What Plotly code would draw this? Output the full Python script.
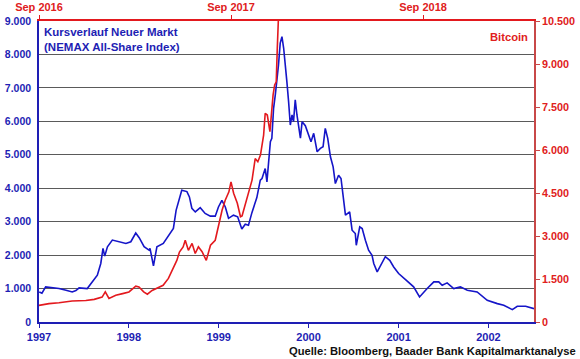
import plotly.graph_objects as go

# NEMAX All-Share Index (bottom date axis, left value axis)
nemax_dates = [
    "1997-01-02", "1997-01-13", "1997-01-28", "1997-02-23", "1997-03-23", "1997-04-21",
    "1997-05-16", "1997-05-31", "1997-06-13", "1997-07-16", "1997-08-06", "1997-08-26",
    "1997-09-09", "1997-09-18", "1997-09-25", "1997-10-06", "1997-10-26", "1997-11-22",
    "1997-12-20", "1998-01-09", "1998-01-29", "1998-02-12", "1998-03-04", "1998-03-24",
    "1998-03-28", "1998-04-11", "1998-04-25", "1998-05-21", "1998-06-18", "1998-07-01",
    "1998-07-12", "1998-07-28", "1998-08-04", "1998-08-25", "1998-09-04", "1998-09-14",
    "1998-09-28", "1998-10-18", "1998-11-07", "1998-11-28", "1998-12-18", "1998-12-31",
    "1999-01-14", "1999-01-28", "1999-02-10", "1999-03-02", "1999-03-19", "1999-04-05",
    "1999-04-19", "1999-05-02", "1999-05-16", "1999-06-05", "1999-06-19", "1999-06-26",
    "1999-07-09", "1999-07-16", "1999-07-30", "1999-08-05", "1999-08-12", "1999-08-19",
    "1999-08-26", "1999-09-01", "1999-09-08", "1999-09-15", "1999-09-22", "1999-09-29",
    "1999-10-05", "1999-10-12", "1999-10-19", "1999-10-26", "1999-11-01", "1999-11-08",
    "1999-11-15", "1999-11-29", "1999-12-06", "1999-12-19", "2000-01-01", "2000-01-11",
    "2000-01-22", "2000-02-05", "2000-02-18", "2000-02-29", "2000-03-09", "2000-03-19",
    "2000-03-30", "2000-04-10", "2000-04-19", "2000-05-02", "2000-05-12", "2000-05-20",
    "2000-05-30", "2000-06-16", "2000-06-26", "2000-07-09", "2000-07-13", "2000-07-27",
    "2000-08-06", "2000-08-19", "2000-09-01", "2000-09-15", "2000-09-22", "2000-10-06",
    "2000-10-26", "2000-11-08", "2000-11-26", "2000-12-12", "2001-01-01", "2001-01-22",
    "2001-02-05", "2001-03-03", "2001-03-27", "2001-04-27", "2001-05-24", "2001-06-13",
    "2001-06-27", "2001-07-17", "2001-08-13", "2001-09-09", "2001-10-07", "2001-11-16",
    "2001-12-27", "2002-02-06", "2002-03-04", "2002-04-08", "2002-04-28", "2002-06-01",
    "2002-07-05",
]
nemax_values = [
    900, 860, 1050, 1030, 1000, 950,
    900, 940, 1020, 1000, 1200, 1400,
    1750, 2200, 1970, 2250, 2450, 2400,
    2350, 2400, 2660, 2520, 2250, 2150,
    2200, 1680, 2250, 2350, 2650, 2800,
    3340, 3790, 3940, 3900, 3740, 3400,
    3290, 3420, 3245, 3165, 3165, 3440,
    3640, 3440, 3100, 3195, 3145, 2780,
    2925, 2895, 3270, 3720, 4240, 4290,
    4590, 4190, 5390, 5490, 6390, 6790,
    7240, 7690, 8340, 8530, 8185, 7485,
    7185, 6590, 5890, 6190, 5990, 6640,
    6190, 5500, 5990, 5870, 5590, 5390,
    5640, 5090, 5190, 5240, 5790, 5490,
    4940, 4640, 4140, 4390, 4290, 3795,
    3195, 3295, 2745, 2645, 2295, 2845,
    2795, 2445, 2145, 1995, 1750, 1500,
    1795, 1955, 1845, 1645, 1450, 1300,
    1220, 1050, 750, 1000, 1200, 1200,
    1100, 1170, 1000, 1050, 950, 900,
    650, 550, 500, 370, 470, 470,
    400,
]

# Bitcoin (top date axis, right value axis)
btc_dates = [
    "2016-09-01", "2016-09-20", "2016-10-09", "2016-11-03", "2016-11-29", "2016-12-15",
    "2016-12-30", "2017-01-05", "2017-01-12", "2017-01-25", "2017-02-07", "2017-02-19",
    "2017-03-04", "2017-03-10", "2017-03-19", "2017-03-26", "2017-04-04", "2017-04-17",
    "2017-04-25", "2017-05-05", "2017-05-14", "2017-05-21", "2017-05-26", "2017-06-02",
    "2017-06-06", "2017-06-12", "2017-06-19", "2017-06-25", "2017-07-01", "2017-07-08",
    "2017-07-16", "2017-07-24", "2017-08-02", "2017-08-09", "2017-08-15", "2017-08-21",
    "2017-08-28", "2017-09-01", "2017-09-06", "2017-09-13", "2017-09-19", "2017-09-22",
    "2017-09-28", "2017-10-05", "2017-10-11", "2017-10-17", "2017-10-22", "2017-10-27",
    "2017-11-02", "2017-11-05", "2017-11-09", "2017-11-14", "2017-11-17", "2017-11-20",
    "2017-11-23", "2017-11-26", "2017-11-28", "2017-11-30", "2017-12-02",
]
btc_values = [
    580, 640, 670, 730, 750, 790,
    870, 1050, 820, 930, 990, 1050,
    1250, 1220, 1050, 970, 1100, 1200,
    1280, 1520, 1860, 2150, 2440, 2620,
    2850, 2500, 2740, 2390, 2620, 2450,
    2150, 2680, 2850, 3440, 3900, 4250,
    4540, 4890, 4490, 4140, 3670, 3700,
    4080, 4480, 4950, 5700, 5590, 5820,
    6520, 7280, 7220, 6640, 7330, 7920,
    8270, 8380, 9550, 10480, 11500,
]

bottom_ticks = ["1997-01-01", "1998-01-01", "1999-01-01", "2000-01-01", "2001-01-01", "2002-01-01"]
bottom_labels = ["1997", "1998", "1999", "2000", "2001", "2002"]
top_ticks = ["2016-09-01", "2017-09-01", "2018-09-01"]
top_labels = ["Sep 2016", "Sep 2017", "Sep 2018"]
left_ticks = [0, 1000, 2000, 3000, 4000, 5000, 6000, 7000, 8000, 9000]
right_ticks = [0, 1500, 3000, 4500, 6000, 7500, 9000, 10500]

BLUE = "#1515C8"
BLUE_TXT = "#1E1EB4"
RED = "#E3191E"
RED_TXT = "#E02020"
FONT = "Liberation Sans, Arial, sans-serif"

fig = go.Figure()
fig.add_trace(go.Scatter(
    x=nemax_dates, y=nemax_values, mode="lines",
    line=dict(color=BLUE, width=1.6), xaxis="x", yaxis="y", showlegend=False,
))
fig.add_trace(go.Scatter(
    x=btc_dates, y=btc_values, mode="lines",
    line=dict(color=RED, width=1.6), xaxis="x2", yaxis="y2", showlegend=False,
))

fig.update_layout(
    width=580, height=359,
    margin=dict(l=39, r=46, t=21, b=37, autoexpand=False),
    paper_bgcolor="white", plot_bgcolor="white",
    separators=",.",
    font=dict(family=FONT),
    xaxis=dict(
        type="date", range=["1997-01-01", "2002-07-05"], automargin=False,
        tickvals=bottom_ticks, ticktext=bottom_labels,
        showgrid=False, zeroline=False,
        showline=True, linecolor=BLUE_TXT, linewidth=1.5,
        ticks="outside", ticklen=4, tickcolor=BLUE_TXT, tickwidth=1,
        tickfont=dict(family=FONT, size=11, color=BLUE_TXT, weight="bold"),
    ),
    xaxis2=dict(
        type="date", range=["2016-09-01", "2019-03-31"], automargin=False,
        overlaying="x", side="top", anchor="y2",
        tickvals=top_ticks, ticktext=top_labels,
        showgrid=False, zeroline=False,
        showline=True, linecolor=RED, linewidth=1.5,
        ticks="outside", ticklen=4, tickcolor=RED, tickwidth=1,
        tickfont=dict(family=FONT, size=11, color=RED_TXT, weight="bold"),
    ),
    yaxis=dict(
        range=[0, 9000], tickvals=left_ticks, tickformat=",.0f", automargin=False,
        showgrid=True, gridcolor="#5A5A5A", gridwidth=1, zeroline=False,
        showline=True, linecolor=BLUE_TXT, linewidth=1.5,
        ticks="", ticklabelstandoff=4,
        tickfont=dict(family=FONT, size=10.5, color=BLUE_TXT, weight="bold"),
    ),
    yaxis2=dict(
        range=[0, 10500], tickvals=right_ticks, tickformat=",.0f", automargin=False,
        overlaying="y", side="right", anchor="x",
        showgrid=False, zeroline=False,
        showline=True, linecolor="#C84848", linewidth=1.5,
        ticks="outside", ticklen=4, tickcolor="#C84848", tickwidth=1,
        tickfont=dict(family=FONT, size=10.8, color=RED_TXT, weight="bold"),
    ),
    annotations=[
        dict(text="Kursverlauf Neuer Markt<br>(NEMAX All-Share Index)",
             xref="paper", yref="paper", x=0.006, y=0.99, xanchor="left", yanchor="top",
             align="left", showarrow=False,
             font=dict(family=FONT, size=11.5, color=BLUE_TXT, weight="bold")),
        dict(text="Bitcoin", xref="paper", yref="paper", x=0.992, y=0.975,
             xanchor="right", yanchor="top", showarrow=False,
             font=dict(family=FONT, size=11.2, color=RED_TXT, weight="bold")),
        dict(text="Quelle: Bloomberg, Baader Bank Kapitalmarktanalyse",
             xref="paper", yref="paper", x=1.0, xanchor="right", xshift=44,
             y=0, yanchor="middle", yshift=-29, showarrow=False,
             font=dict(family=FONT, size=11.2, color="#111111", weight="bold")),
    ],
)

fig.write_html(
    "out.html",
    config={"displayModeBar": False},
    post_script="document.body.style.margin='0';document.body.style.padding='0';",
)
